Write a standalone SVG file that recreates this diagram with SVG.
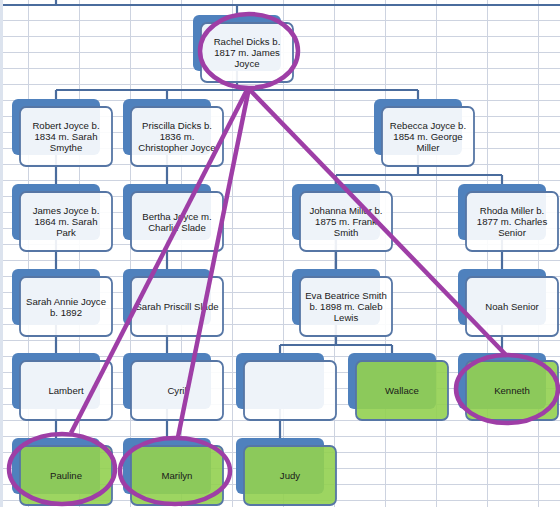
<svg xmlns="http://www.w3.org/2000/svg" width="560" height="507" viewBox="0 0 560 507">
<defs>
<style>
.grid line{stroke:#cdd3e0;stroke-width:1}
.back{fill:#4f81bd}
.front{fill:#ffffff;fill-opacity:0.9;stroke:#5676a5;stroke-width:1.8}
.frontg{fill:#92d050;fill-opacity:0.9;stroke:#5676a5;stroke-width:1.8}
.t{font-family:"Liberation Sans",Arial,sans-serif;font-size:9.6px;fill:#1a1a1a;text-anchor:middle}
.conn{stroke:#4a6c9d;stroke-width:2.2;fill:none}
.ann{stroke:#9e3ea6;stroke-width:4.5;fill:none}
</style>
</defs>
<rect x="0" y="0" width="560" height="507" fill="#ffffff"/>
<rect x="0" y="0" width="3" height="507" fill="#dce3ee"/>
<g class="grid">
<line x1="28.5" y1="0" x2="28.5" y2="507"/><line x1="79.5" y1="0" x2="79.5" y2="507"/><line x1="130.5" y1="0" x2="130.5" y2="507"/><line x1="181.5" y1="0" x2="181.5" y2="507"/><line x1="232.5" y1="0" x2="232.5" y2="507"/><line x1="283.5" y1="0" x2="283.5" y2="507"/><line x1="334.5" y1="0" x2="334.5" y2="507"/><line x1="385.5" y1="0" x2="385.5" y2="507"/><line x1="436.5" y1="0" x2="436.5" y2="507"/><line x1="487.5" y1="0" x2="487.5" y2="507"/><line x1="538.5" y1="0" x2="538.5" y2="507"/>
<line x1="3" y1="20.5" x2="560" y2="20.5"/><line x1="3" y1="36.5" x2="560" y2="36.5"/><line x1="3" y1="52.5" x2="560" y2="52.5"/><line x1="3" y1="68.5" x2="560" y2="68.5"/><line x1="3" y1="84.5" x2="560" y2="84.5"/><line x1="3" y1="100.5" x2="560" y2="100.5"/><line x1="3" y1="116.5" x2="560" y2="116.5"/><line x1="3" y1="132.5" x2="560" y2="132.5"/><line x1="3" y1="148.5" x2="560" y2="148.5"/><line x1="3" y1="164.5" x2="560" y2="164.5"/><line x1="3" y1="180.5" x2="560" y2="180.5"/><line x1="3" y1="196.5" x2="560" y2="196.5"/><line x1="3" y1="212.5" x2="560" y2="212.5"/><line x1="3" y1="228.5" x2="560" y2="228.5"/><line x1="3" y1="244.5" x2="560" y2="244.5"/><line x1="3" y1="260.5" x2="560" y2="260.5"/><line x1="3" y1="276.5" x2="560" y2="276.5"/><line x1="3" y1="292.5" x2="560" y2="292.5"/><line x1="3" y1="308.5" x2="560" y2="308.5"/><line x1="3" y1="324.5" x2="560" y2="324.5"/><line x1="3" y1="340.5" x2="560" y2="340.5"/><line x1="3" y1="356.5" x2="560" y2="356.5"/><line x1="3" y1="372.5" x2="560" y2="372.5"/><line x1="3" y1="388.5" x2="560" y2="388.5"/><line x1="3" y1="404.5" x2="560" y2="404.5"/><line x1="3" y1="420.5" x2="560" y2="420.5"/><line x1="3" y1="436.5" x2="560" y2="436.5"/><line x1="3" y1="452.5" x2="560" y2="452.5"/><line x1="3" y1="468.5" x2="560" y2="468.5"/><line x1="3" y1="484.5" x2="560" y2="484.5"/><line x1="3" y1="500.5" x2="560" y2="500.5"/>
</g>
<g id="connectors">
<path class="conn" d="M3 5H560 M56 0V5 M237 5V15"/>
<path class="conn" d="M237 71V90 M56 90H418 M56 90V99 M167 90V99 M418 90V99"/>
<path class="conn" d="M56 155V184 M167 155V184 M418 155V175 M336 175H502 M336 175V184 M502 175V184"/>
<path class="conn" d="M56 240V269 M167 240V269 M336 240V269 M502 240V269"/>
<path class="conn" d="M56 325V353 M167 325V353 M336 325V345 M280 345H392 M280 345V353 M392 345V353 M502 325V353"/>
<path class="conn" d="M56 409V438 M167 409V438 M280 409V438"/>
</g>
<g id="rachel"><rect class="back" x="193" y="15" width="88" height="56" rx="6"/><rect class="front" x="201" y="23" width="92" height="59" rx="6"/><text class="t" x="247" y="45">Rachel Dicks b.</text><text class="t" x="247" y="56">1817 m. James</text><text class="t" x="247" y="67">Joyce</text></g>
<g id="robert"><rect class="back" x="12" y="99" width="88" height="56" rx="6"/><rect class="front" x="20" y="107" width="92" height="59" rx="6"/><text class="t" x="66" y="129">Robert Joyce b.</text><text class="t" x="66" y="140">1834 m. Sarah</text><text class="t" x="66" y="151">Smythe</text></g>
<g id="priscilla"><rect class="back" x="123" y="99" width="88" height="56" rx="6"/><rect class="front" x="131" y="107" width="92" height="59" rx="6"/><text class="t" x="177" y="129">Priscilla Dicks b.</text><text class="t" x="177" y="140">1836 m.</text><text class="t" x="177" y="151">Christopher Joyce</text></g>
<g id="rebecca"><rect class="back" x="374" y="99" width="88" height="56" rx="6"/><rect class="front" x="382" y="107" width="92" height="59" rx="6"/><text class="t" x="428" y="129">Rebecca Joyce b.</text><text class="t" x="428" y="140">1854 m. George</text><text class="t" x="428" y="151">Miller</text></g>
<g id="james"><rect class="back" x="12" y="184" width="88" height="56" rx="6"/><rect class="front" x="20" y="192" width="92" height="59" rx="6"/><text class="t" x="66" y="214">James Joyce b.</text><text class="t" x="66" y="225">1864 m. Sarah</text><text class="t" x="66" y="236">Park</text></g>
<g id="bertha"><rect class="back" x="123" y="184" width="88" height="56" rx="6"/><rect class="front" x="131" y="192" width="92" height="59" rx="6"/><text class="t" x="177" y="219.5">Bertha Joyce m.</text><text class="t" x="177" y="230.5">Charlie Slade</text></g>
<g id="johanna"><rect class="back" x="292" y="184" width="88" height="56" rx="6"/><rect class="front" x="300" y="192" width="92" height="59" rx="6"/><text class="t" x="346" y="214">Johanna Miller b.</text><text class="t" x="346" y="225">1875 m. Frank</text><text class="t" x="346" y="236">Smith</text></g>
<g id="rhoda"><rect class="back" x="458" y="184" width="88" height="56" rx="6"/><rect class="front" x="466" y="192" width="92" height="59" rx="6"/><text class="t" x="512" y="214">Rhoda Miller b.</text><text class="t" x="512" y="225">1877 m. Charles</text><text class="t" x="512" y="236">Senior</text></g>
<g id="sarah-annie"><rect class="back" x="12" y="269" width="88" height="56" rx="6"/><rect class="front" x="20" y="277" width="92" height="59" rx="6"/><text class="t" x="66" y="304.5">Sarah Annie Joyce</text><text class="t" x="66" y="315.5">b. 1892</text></g>
<g id="sarah-priscill"><rect class="back" x="123" y="269" width="88" height="56" rx="6"/><rect class="front" x="131" y="277" width="92" height="59" rx="6"/><text class="t" x="177" y="310">Sarah Priscill Slade</text></g>
<g id="eva"><rect class="back" x="292" y="269" width="88" height="56" rx="6"/><rect class="front" x="300" y="277" width="92" height="59" rx="6"/><text class="t" x="346" y="299">Eva Beatrice Smith</text><text class="t" x="346" y="310">b. 1898 m. Caleb</text><text class="t" x="346" y="321">Lewis</text></g>
<g id="noah"><rect class="back" x="458" y="269" width="88" height="56" rx="6"/><rect class="front" x="466" y="277" width="92" height="59" rx="6"/><text class="t" x="512" y="310">Noah Senior</text></g>
<g id="lambert"><rect class="back" x="12" y="353" width="88" height="56" rx="6"/><rect class="front" x="20" y="361" width="92" height="59" rx="6"/><text class="t" x="66" y="394">Lambert</text></g>
<g id="cyril"><rect class="back" x="123" y="353" width="88" height="56" rx="6"/><rect class="front" x="131" y="361" width="92" height="59" rx="6"/><text class="t" x="177" y="394">Cyril</text></g>
<g id="blank"><rect class="back" x="236" y="353" width="88" height="56" rx="6"/><rect class="front" x="244" y="361" width="92" height="59" rx="6"/></g>
<g id="wallace"><rect class="back" x="348" y="353" width="88" height="56" rx="6"/><rect class="frontg" x="356" y="361" width="92" height="59" rx="6"/><text class="t" x="402" y="394">Wallace</text></g>
<g id="kenneth"><rect class="back" x="458" y="353" width="88" height="56" rx="6"/><rect class="frontg" x="466" y="361" width="92" height="59" rx="6"/><text class="t" x="512" y="394">Kenneth</text></g>
<g id="pauline"><rect class="back" x="12" y="438" width="88" height="56" rx="6"/><rect class="frontg" x="20" y="446" width="92" height="59" rx="6"/><text class="t" x="66" y="479">Pauline</text></g>
<g id="marilyn"><rect class="back" x="123" y="438" width="88" height="56" rx="6"/><rect class="frontg" x="131" y="446" width="92" height="59" rx="6"/><text class="t" x="177" y="479">Marilyn</text></g>
<g id="judy"><rect class="back" x="236" y="438" width="88" height="56" rx="6"/><rect class="frontg" x="244" y="446" width="92" height="59" rx="6"/><text class="t" x="290" y="479">Judy</text></g>
<g id="annotations">
<ellipse class="ann" cx="249" cy="51" rx="49" ry="37"/>
<line class="ann" x1="248" y1="88" x2="71" y2="433"/>
<line class="ann" x1="249" y1="88" x2="178" y2="437"/>
<line class="ann" x1="248" y1="88" x2="507" y2="356"/>
<ellipse class="ann" cx="62" cy="469" rx="53" ry="35"/>
<ellipse class="ann" cx="175" cy="471" rx="55" ry="33"/>
<ellipse class="ann" cx="507" cy="389" rx="51" ry="34"/>
</g>
</svg>
